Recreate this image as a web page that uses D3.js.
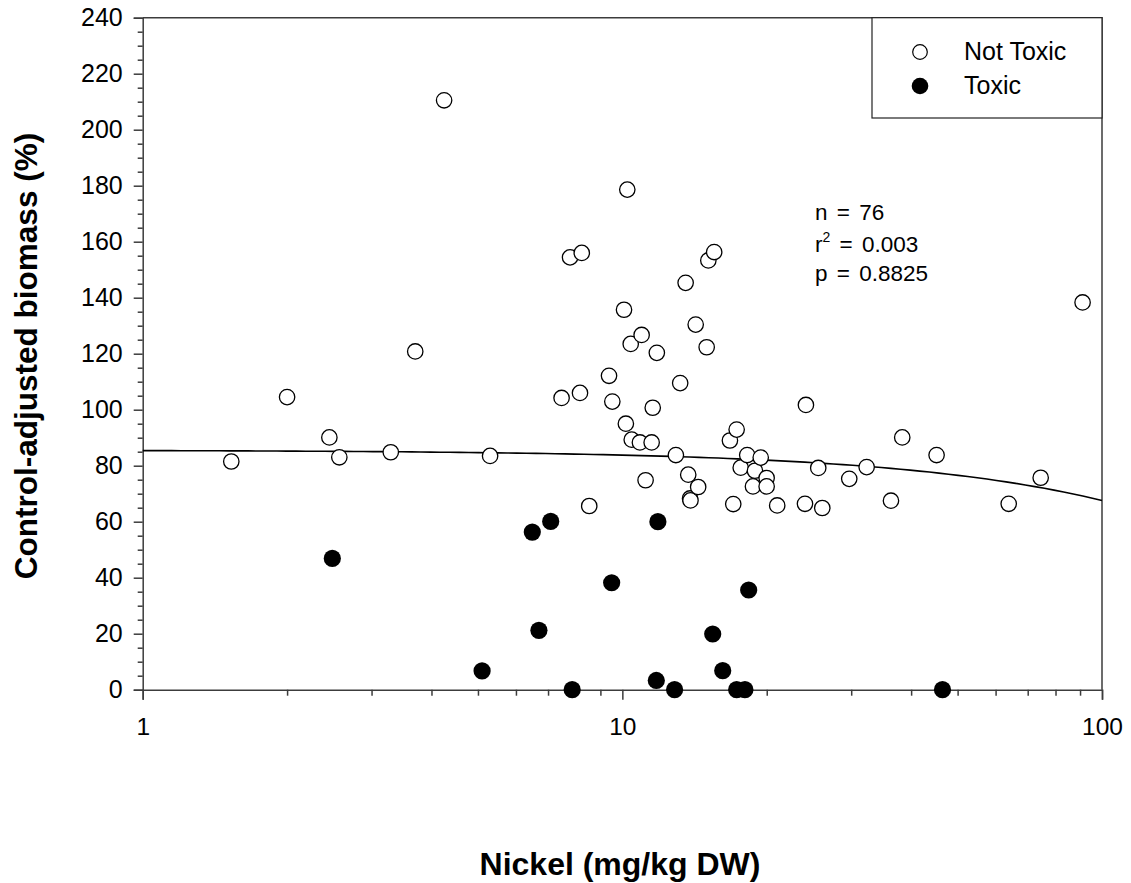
<!DOCTYPE html>
<html>
<head>
<meta charset="utf-8">
<script src="https://cdn.jsdelivr.net/npm/d3@7"></script>
<style>
  html, body { margin: 0; padding: 0; background: #fff; }
  svg { display: block; font-family: Arial, "Liberation Sans", sans-serif; }
</style>
</head>
<body>
<svg id="chart" width="1131" height="883"></svg>
<script>
// ---- Data ----
const notToxicNickel = [1.53, 2.00, 2.45, 2.57, 3.29, 3.70, 4.25, 5.30, 7.47, 7.78,
  8.16, 8.23, 8.53, 9.38, 9.53, 10.08, 10.17, 10.24, 10.41, 10.46,
  10.88, 10.97, 11.18, 11.51, 11.57, 11.8, 12.93, 13.2, 13.55, 13.72,
  13.84, 13.87, 14.22, 14.39, 14.99, 15.11, 15.54, 16.76, 17.03, 17.31,
  17.65, 18.21, 18.72, 18.90, 19.43, 19.99, 19.99, 21.03, 24.03, 24.14,
  25.61, 26.11, 29.72, 32.31, 36.31, 38.33, 45.2, 63.9, 74.5, 91.1];
const notToxicBiomass = [81.5, 104.5, 90.1, 83.0, 84.8, 120.8, 210.5, 83.5, 104.2, 154.4,
  106.0, 156.0, 65.6, 112.1, 102.9, 135.7, 95.0, 178.6, 123.5, 89.3,
  88.3, 126.7, 74.8, 88.3, 100.7, 120.3, 83.8, 109.5, 145.3, 76.8,
  68.3, 67.6, 130.4, 72.4, 122.3, 153.3, 156.3, 89.0, 66.3, 92.9,
  79.3, 83.8, 72.6, 78.2, 82.9, 75.6, 72.6, 65.8, 66.4, 101.7,
  79.2, 64.9, 75.3, 79.5, 67.5, 90.1, 83.8, 66.4, 75.7, 138.3];
const toxicNickel = [2.485, 5.10, 6.49, 6.70, 7.09, 7.86, 9.50, 11.77, 11.86, 12.85,
  15.43, 16.19, 17.31, 18.01, 18.34, 46.5];
const toxicBiomass = [46.9, 6.7, 56.3, 21.2, 60.1, 0, 38.2, 3.3, 60.0, 0,
  19.9, 6.8, 0, 0, 35.6, 0];

// regression fit: biomass = intercept + slope * nickel
const fitIntercept = 85.58;
const fitSlope = -0.18;

const xTickValues = [1, 10, 100];
const yTickValues = [0, 20, 40, 60, 80, 100, 120, 140, 160, 180, 200, 220, 240];
const legendLabels = ["Not Toxic", "Toxic"];
const statLines = ["n = 76", "r2 = 0.003", "p = 0.8825"];
const xTitle = "Nickel (mg/kg DW)";
const yTitle = "Control-adjusted biomass (%)";

// ---- Layout ----
const L = 142.7, R = 1102, T = 17.7, B = 689.7;
const axisColor = "#3c3c3c";
const svg = d3.select("#chart");

const x = d3.scaleLog().domain([1, 100]).range([L, R]);
const y = d3.scaleLinear().domain([0, 240]).range([B, T]);

// frame (top & right)
svg.append("path")
  .attr("d", `M${L},${T}H${R}V${B}`)
  .attr("fill", "none").attr("stroke", axisColor).attr("stroke-width", 1.5);

// Y axis: major every 20, minor every 5
const yMinor = d3.range(0, 241, 5).filter(v => v % 20 !== 0);
const yAxis = svg.append("g").attr("transform", `translate(${L},0)`)
  .call(d3.axisLeft(y).tickValues(yTickValues).tickSize(9).tickPadding(11).tickFormat(d3.format("d")));
yAxis.select(".domain").attr("stroke", axisColor).attr("stroke-width", 1.5);
yAxis.selectAll(".tick line").attr("stroke", axisColor).attr("stroke-width", 1.5);
yAxis.selectAll(".tick text").attr("font-size", 25).attr("fill", "#000")
  .attr("font-family", "Arial, 'Liberation Sans', sans-serif");
svg.append("g").attr("transform", `translate(${L},0)`)
  .call(d3.axisLeft(y).tickValues(yMinor).tickSize(5).tickFormat(""))
  .call(g => g.select(".domain").remove())
  .selectAll(".tick line").attr("stroke", axisColor).attr("stroke-width", 1.5);

// X axis: log, major at decades, minor 2..9
const xMinor = [];
[1, 10].forEach(d => { for (let k = 2; k <= 9; k++) xMinor.push(d * k); });
const xAxis = svg.append("g").attr("transform", `translate(0,${B})`)
  .call(d3.axisBottom(x).tickValues(xTickValues).tickSize(10).tickPadding(18).tickFormat(d3.format("d")));
xAxis.select(".domain").attr("stroke", axisColor).attr("stroke-width", 1.5);
xAxis.selectAll(".tick line").attr("stroke", axisColor).attr("stroke-width", 1.5);
xAxis.selectAll(".tick text").attr("font-size", 24.5).attr("fill", "#000")
  .attr("font-family", "Arial, 'Liberation Sans', sans-serif");
svg.append("g").attr("transform", `translate(0,${B})`)
  .call(d3.axisBottom(x).tickValues(xMinor).tickSize(6).tickFormat(""))
  .call(g => g.select(".domain").remove())
  .selectAll(".tick line").attr("stroke", axisColor).attr("stroke-width", 1.5);

// regression line
const fitX = d3.range(0, 2.0001, 0.02).map(e => Math.pow(10, e));
svg.append("path")
  .datum(fitX)
  .attr("fill", "none").attr("stroke", "#000").attr("stroke-width", 1.6)
  .attr("d", d3.line().x(d => x(d)).y(d => y(fitIntercept + fitSlope * d)));

// points
const openPts = notToxicNickel.map((v, i) => ({ x: v, y: notToxicBiomass[i] }));
const toxicPts = toxicNickel.map((v, i) => ({ x: v, y: toxicBiomass[i] }));

svg.append("g").selectAll("circle").data(openPts).join("circle")
  .attr("cx", d => x(d.x)).attr("cy", d => y(d.y)).attr("r", 7.7)
  .attr("fill", "#fff").attr("stroke", "#000").attr("stroke-width", 1.3);
svg.append("g").selectAll("circle").data(toxicPts).join("circle")
  .attr("cx", d => x(d.x)).attr("cy", d => y(d.y)).attr("r", 8.6)
  .attr("fill", "#000");

// legend
const lg = svg.append("g");
lg.append("rect").attr("x", 872).attr("y", T).attr("width", R - 872).attr("height", 100.3)
  .attr("fill", "#fff").attr("stroke", "#222").attr("stroke-width", 1.2);
lg.append("circle").attr("cx", 920).attr("cy", 52).attr("r", 7.3)
  .attr("fill", "#fff").attr("stroke", "#000").attr("stroke-width", 1.2);
lg.append("circle").attr("cx", 920).attr("cy", 86).attr("r", 8.3).attr("fill", "#000");
lg.selectAll("text").data(legendLabels).join("text")
  .attr("x", 964).attr("y", (d, i) => 60 + i * 34)
  .attr("font-size", 25).attr("fill", "#000").text(d => d);

// stats annotation
const st = svg.append("g").attr("font-size", 22.5).attr("fill", "#000").attr("word-spacing", 3);
const statY = [220, 252, 281];
st.append("text").attr("x", 815).attr("y", statY[0]).text(statLines[0]);
const r2 = st.append("text").attr("x", 815).attr("y", statY[1]);
r2.append("tspan").text("r");
r2.append("tspan").attr("font-size", 14).attr("dy", -10).text("2");
r2.append("tspan").attr("dy", 10).text(" " + statLines[1].slice(3));
st.append("text").attr("x", 815).attr("y", statY[2]).text(statLines[2]);

// axis titles
svg.append("text").attr("x", 620).attr("y", 875).attr("text-anchor", "middle")
  .attr("font-size", 32).attr("font-weight", "bold").attr("fill", "#000").text(xTitle);
svg.append("text").attr("transform", "translate(37,356) rotate(-90)").attr("text-anchor", "middle")
  .attr("font-size", 31.5).attr("font-weight", "bold").attr("fill", "#000").text(yTitle);
</script>
</body>
</html>
